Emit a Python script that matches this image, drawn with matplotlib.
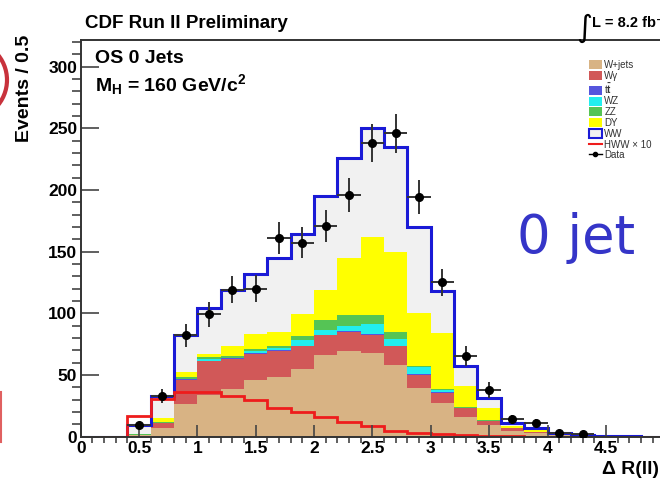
import numpy as np
import matplotlib
matplotlib.use("Agg")
import matplotlib.pyplot as plt
from matplotlib.patches import Patch, Ellipse
from matplotlib.lines import Line2D

plt.rcParams["font.family"] = ["Liberation Sans", "DejaVu Sans"]
plt.rcParams["font.weight"] = "bold"
plt.rcParams["mathtext.fontset"] = "custom"
plt.rcParams["mathtext.rm"] = "Liberation Sans:bold"
plt.rcParams["mathtext.it"] = "Liberation Sans:bold"
plt.rcParams["mathtext.bf"] = "Liberation Sans:bold"

# dR(ll) binning: 25 bins of 0.2 between 0 and 5
bin_edges = np.round(np.arange(0, 5.01, 0.2), 2)

# background expectations per bin (stacked bottom to top)
w_jets = [0, 0, 1, 7, 26, 34, 38.5, 46, 48, 54.5, 66, 69, 67.5, 58, 39, 27, 16, 9.3, 4.5, 2.5, 1, 0.4, 0.2, 0, 0]
w_gamma = [0, 0, 0.5, 3.7, 20, 27, 24.5, 21, 21.3, 18.5, 16, 15.5, 14.5, 15, 11, 8.5, 7, 3.3, 2.1, 1, 0.2, 0.1, 0, 0, 0]
ttbar = [0, 0, 0, 0.2, 0.3, 0.4, 0.4, 0.5, 0.5, 0.6, 0.7, 0.8, 0.8, 0.7, 0.5, 0.4, 0.2, 0.1, 0.1, 0, 0, 0, 0, 0, 0]
wz = [0, 0, 0.1, 0.3, 0.7, 1.6, 0.6, 1.5, 1.7, 4.4, 3.3, 4.7, 8.2, 5.3, 5.6, 1.8, 0.3, 0.2, 0.1, 0.1, 0, 0, 0, 0, 0]
zz = [0, 0, 0.1, 0.4, 1, 1.5, 1.5, 2, 1.9, 3.8, 8.5, 8.5, 7.5, 6, 1, 0.8, 0.4, 0.2, 0.1, 0.1, 0, 0, 0, 0, 0]
drell_yan = [0, 0, 0.5, 3.2, 4.5, 2.5, 7.5, 12, 11.6, 17.2, 24.5, 46, 63.5, 65, 42.9, 45.2, 17.1, 10.3, 1.9, 1.3, 0.3, 0.1, 0.1, 0, 0]
ww = [0, 0, 6.8, 18.2, 29.5, 37, 46, 49, 59.5, 65, 76, 81.5, 88.5, 85, 70, 34.3, 16.4, 8.1, 2.2, 1.6, 1.5, 0.4, 0.2, 0.2, 0]

# Higgs signal (x10) and observed events
hww_x10 = [0, 0, 17, 30.4, 36.4, 36.4, 33, 29.6, 22.8, 19.6, 16, 12, 8.8, 4.7, 2.9, 2, 1, 0.5, 0.3, 0, 0, 0, 0, 0, 0]
data_counts = [0, 0, 9, 33, 82, 99, 119, 120, 161, 157, 171, 196, 238, 246, 194.5, 125, 65, 37.7, 14, 11, 2.6, 2, 0, 0, 0]

y_ticks = [0, 50, 100, 150, 200, 250, 300]
y_tick_labels = ["0", "50", "100", "150", "200", "250", "300"]
x_ticks = [0, 0.5, 1, 1.5, 2, 2.5, 3, 3.5, 4, 4.5, 5]
x_tick_labels = ["0", "0.5", "1", "1.5", "2", "2.5", "3", "3.5", "4", "4.5", "5"]

stack = [
    ("W+jets", w_jets, "#d8b384"),
    ("W\u03b3", w_gamma, "#d15858"),
    (r"t$\bar{\rm t}$", ttbar, "#5555dd"),
    ("WZ", wz, "#22eeee"),
    ("ZZ", zz, "#55c455"),
    ("DY", drell_yan, "#ffff00"),
    ("WW", ww, "#f1f1f1"),
]

fig = plt.figure(figsize=(6.6, 4.86), dpi=100)
ax = fig.add_axes([80.7 / 660, 49.5 / 486, 583.5 / 660, 396.5 / 486])

bottom = np.zeros(len(bin_edges) - 1)
for name, vals, color in stack:
    top = bottom + np.array(vals)
    ax.stairs(top, bin_edges, baseline=bottom, fill=True, color=color, lw=0)
    bottom = top

# total expectation outlined in blue
ax.stairs(bottom, bin_edges, baseline=0, color="#1a1ad6", lw=2.2)
ax.stairs(hww_x10, bin_edges, baseline=None, color="#ee1c1c", lw=2)

counts = np.array(data_counts)
centers = bin_edges[:-1] + 0.1
has_data = counts > 0
ax.errorbar(centers[has_data], counts[has_data], yerr=np.sqrt(counts[has_data]), xerr=0.1,
            fmt="o", color="black", ecolor="#333333", ms=5.5, elinewidth=1.4, capsize=0, zorder=5)

ax.set_xlim(0, 5)
ax.set_ylim(0, 321.6)
ax.set_xticks(x_ticks)
ax.set_xticklabels(x_tick_labels)
ax.set_yticks(y_ticks)
ax.set_yticklabels(y_tick_labels)
ax.set_xticks(np.round(np.arange(0, 5.01, 0.1), 2), minor=True)
ax.set_yticks(np.arange(0, 321, 10), minor=True)
ax.tick_params(axis="both", direction="in", colors="#444444", width=1.2, labelsize=12.5, labelcolor="black")
ax.tick_params(axis="y", which="major", length=13, pad=2.5)
ax.tick_params(axis="y", which="minor", length=6.5, width=1.2, colors="#444444")
ax.tick_params(axis="x", which="major", length=8.5, pad=3.5)
ax.tick_params(axis="x", which="minor", length=4.5, width=1.2, colors="#444444")
for side in ["left", "bottom", "top", "right"]:
    ax.spines[side].set_color("#333333")
    ax.spines[side].set_linewidth(1.4)

# titles and labels
fig.text(85 / 660, 1 - 28 / 486, "CDF Run II Preliminary", fontsize=13.5, va="baseline")
fig.text(95 / 660, 1 - 63 / 486, "OS 0 Jets", fontsize=14, va="baseline")
fig.text(95 / 660, 1 - 91 / 486, r"M$_{H}$ = 160 GeV/c$^{2}$", fontsize=14, va="baseline")
fig.text(25 / 660, 1 - 35 / 486, "Events / 0.5", fontsize=14, rotation=90, ha="center", va="top")
fig.text(602 / 660, 1 - 474 / 486, "\u0394 R(ll)", fontsize=14, ha="left", va="baseline")
fig.text(576 / 660, 1 - 37 / 486, "\u222b", fontsize=22, family="DejaVu Sans", weight="normal", va="baseline")
fig.text(592 / 660, 1 - 27 / 486, "L = 8.2 fb\u207b\u00b9", fontsize=10.5, va="baseline")

handles = [Patch(facecolor=c, edgecolor="none") for _, _, c in stack[:-1]]
handles.append(Patch(facecolor="#f1f1f1", edgecolor="#1a1ad6", lw=1.5))
handles.append(Line2D([], [], color="#ee1c1c", lw=1.5))
handles.append(Line2D([], [], color="black", lw=1, marker="o", ms=3))
labels = [name for name, _, _ in stack] + ["HWW \u00d7 10", "Data"]
leg = fig.legend(handles, labels, loc="upper left", bbox_to_anchor=(584 / 660, 1 - 55 / 486),
                 frameon=False, prop={"size": 7, "weight": "normal"}, borderpad=0,
                 handlelength=1.35, handleheight=1.05, handletextpad=0.25, labelspacing=0.08)
for t in leg.get_texts():
    t.set_color("#333333")

# slide decorations around the plot
fig.text(517 / 660, 1 - 253 / 486, "0 jet", fontsize=38, family="DejaVu Sans", weight="normal",
         color="#3535c8", va="baseline")
fig.add_artist(Ellipse((-32.6 / 660, 1 - 80 / 486), 2 * 39.6 / 660, 2 * 39.6 / 486,
                       transform=fig.transFigure, fill=False, edgecolor="#c8323c", lw=3))
fig.add_artist(Line2D([1 / 660, 1 / 660], [1 - 392 / 486, 1 - 442 / 486],
                      transform=fig.transFigure, color="#e06060", lw=1.5))

fig.savefig("out.png", dpi=100)
